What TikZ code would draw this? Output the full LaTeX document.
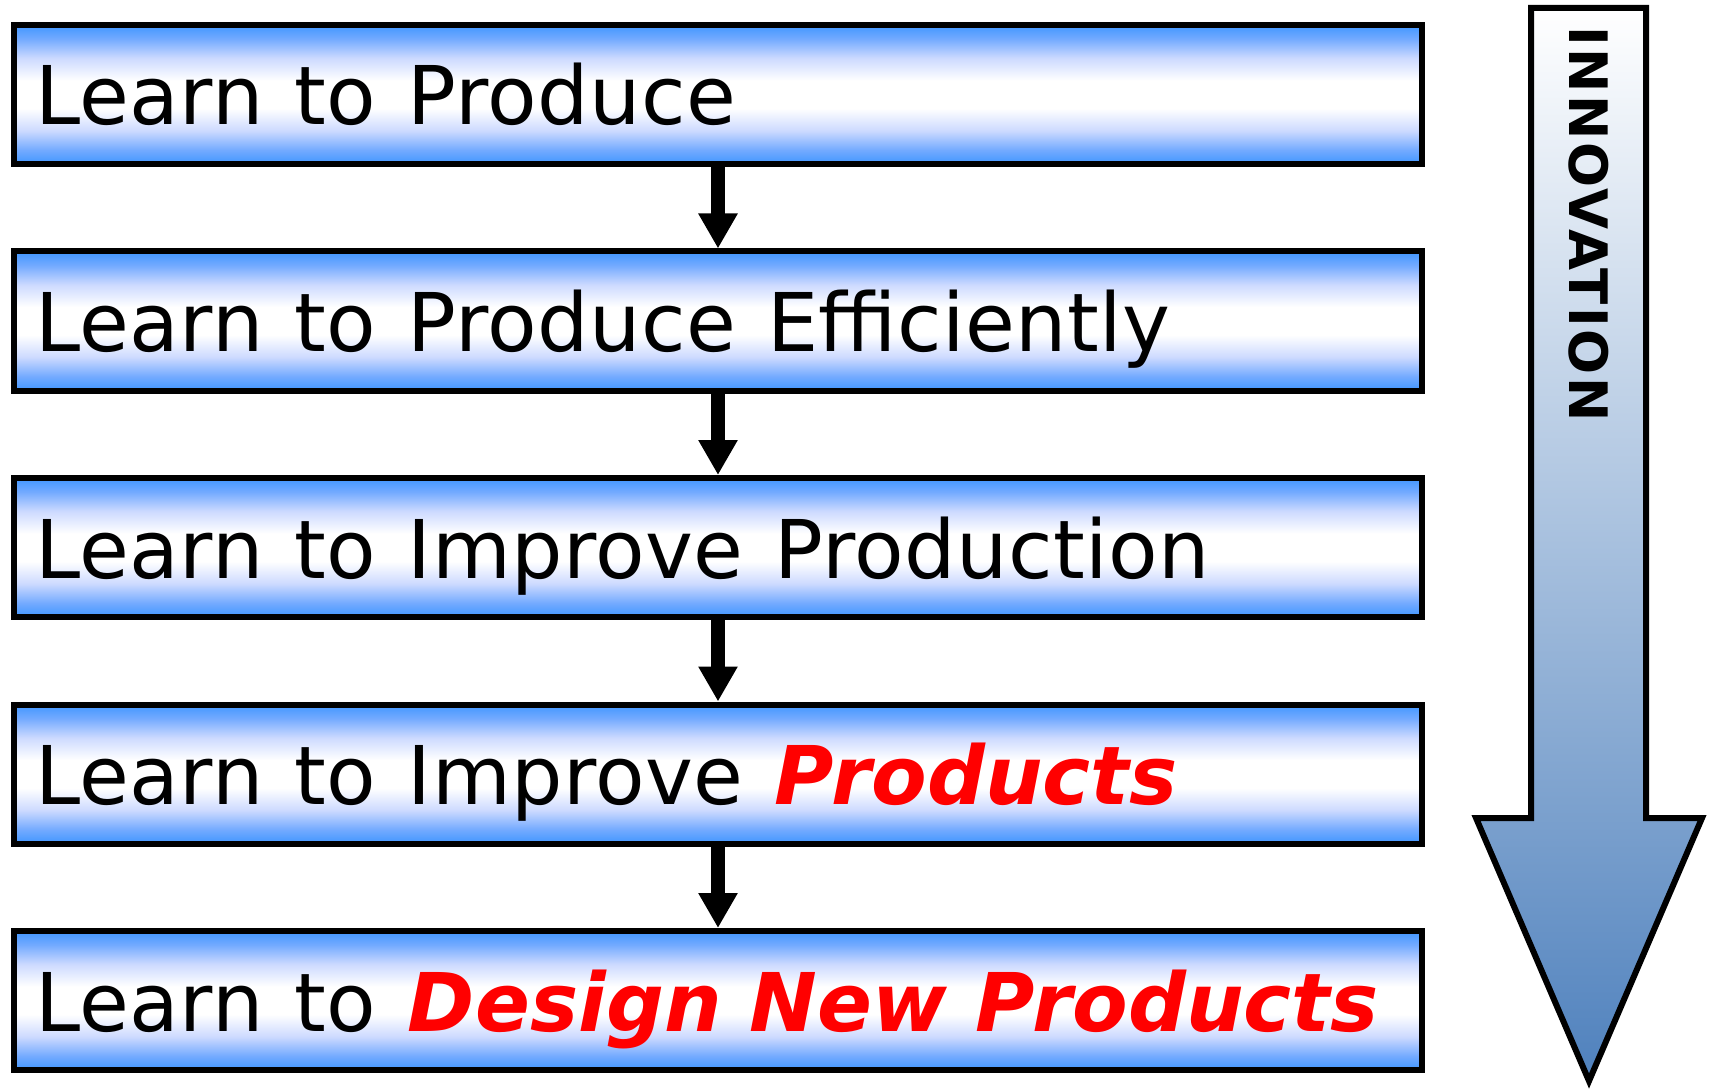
\documentclass[tikz,border=0pt]{standalone}
\usepackage{fontspec}
\setmainfont{DejaVu Sans}
\newfontfamily\boxfont[LetterSpace=0.5,WordSpace=1.2]{DejaVu Sans}
\newfontfamily\redfont{DejaVu Sans}
\newfontfamily\innfont[LetterSpace=5]{DejaVu Sans}
\usetikzlibrary{arrows.meta}
\definecolor{bblue}{RGB}{64,150,255}
\definecolor{bmid}{RGB}{115,170,255}
\definecolor{blav}{RGB}{205,218,255}
\definecolor{asteel}{RGB}{79,129,189}
\definecolor{hlred}{RGB}{255,0,0}
\pgfdeclareverticalshading{boxsh}{100bp}{color(0bp)=(bblue); color(25bp)=(bblue); color(30bp)=(bmid); color(37bp)=(blav); color(45bp)=(white); color(55bp)=(white); color(63bp)=(blav); color(70bp)=(bmid); color(75bp)=(bblue); color(100bp)=(bblue)}
\tikzset{
  box/.style={draw=black, line width=3pt, shading=boxsh, minimum width=704pt, minimum height=69.5pt, inner sep=0pt},
  lbl/.style={anchor=base west, inner sep=0pt, font=\boxfont\fontsize{40.5pt}{48pt}\selectfont},
  conn/.style={line width=7pt, -{Triangle[width=18.5pt,length=17.5pt]}},
  innov/.style={draw=black, line width=3pt, top color=white, bottom color=asteel, line join=miter},
  innovtxt/.style={rotate=-90, inner sep=0pt, font=\innfont\fontsize{26.5pt}{32pt}\selectfont\bfseries}
}
\newcommand{\hlt}[1]{{\redfont\color{hlred}\bfseries\itshape #1}}
\begin{document}
\begin{tikzpicture}[x=0.5pt,y=-0.5pt]
\useasboundingbox (0,0) rectangle (1712,1091);
\node[box] (b1) at (718,94.5) {};
\node[box] (b2) at (718,321) {};
\node[box] (b3) at (718,547.5) {};
\node[box] (b4) at (718,774) {};
\node[box] (b5) at (718,1000.5) {};
\node[lbl] (t1) at (35,125) {Learn to Produce};
\node[lbl] (t2) at (35,351.5) {Learn to Produce Efficiently};
\node[lbl] (t3) at (35,578) {Learn to Improve Production};
\node[lbl] (t4) at (35,804.5) {Learn to Improve \hlt{Products}};
\node[lbl] (t5) at (35,1031) {Learn to \hlt{Design New Products}};
\draw[conn] (b1.south) -- (b2.north);
\draw[conn] (b2.south) -- (b3.north);
\draw[conn] (b3.south) -- (b4.north);
\draw[conn] (b4.south) -- (b5.north);
\path[innov] (1531,8) -- (1646,8) -- (1646,818) -- (1702,818) -- (1589,1081) -- (1476,818) -- (1531,818) -- cycle;
\node[innovtxt] (inn) at (1589,224) {INNOVATION};
\end{tikzpicture}
\end{document}
